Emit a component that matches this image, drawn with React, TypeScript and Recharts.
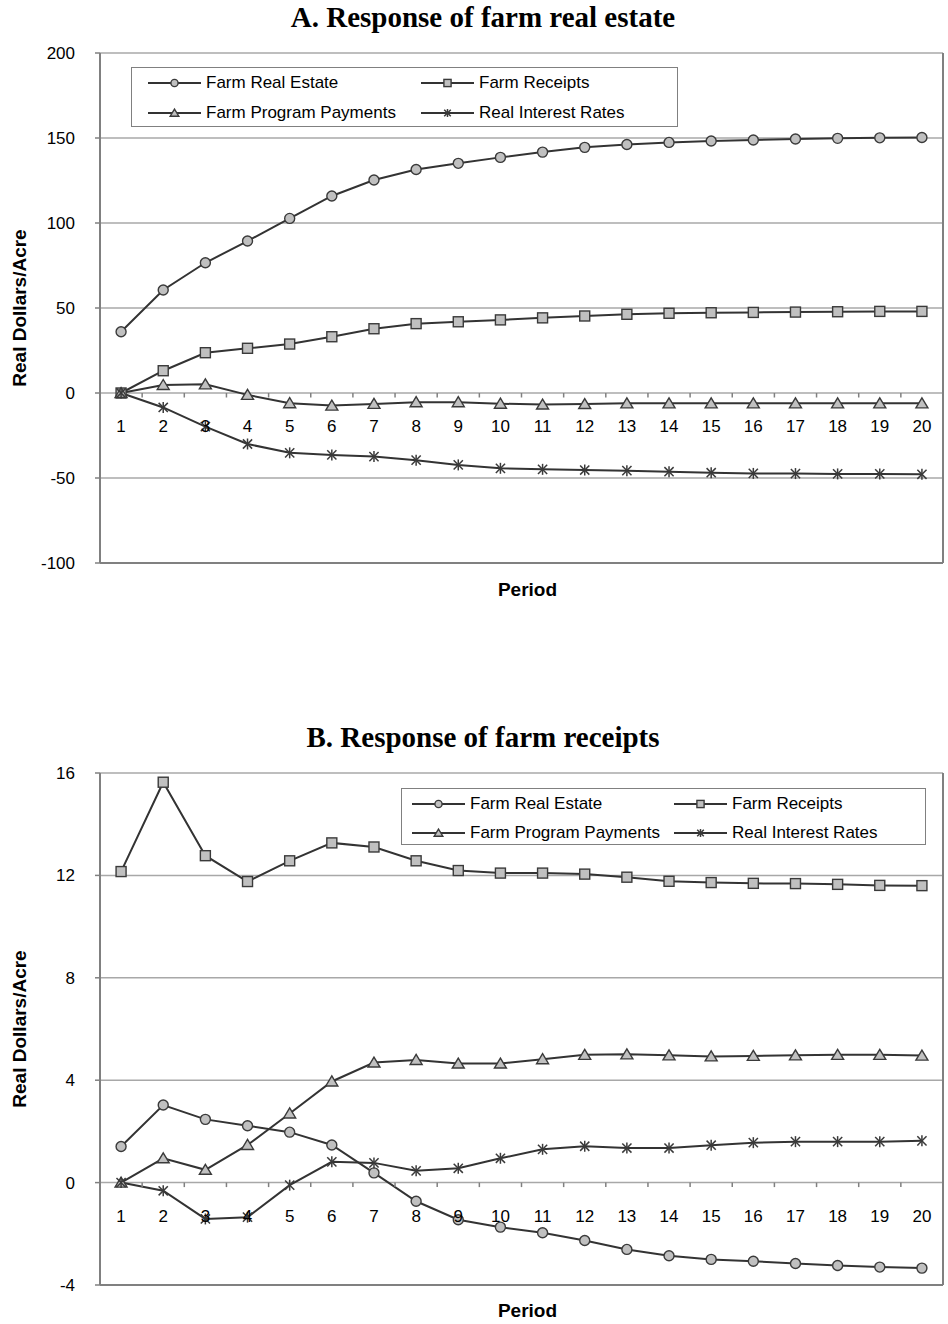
import {
  LineChart,
  Line,
  XAxis,
  YAxis,
  CartesianGrid,
  Legend,
} from "recharts";

const PERIODS = [1, 2, 3, 4, 5, 6, 7, 8, 9, 10, 11, 12, 13, 14, 15, 16, 17, 18, 19, 20];

const SERIES_NAMES = [
  "Farm Real Estate",
  "Farm Receipts",
  "Farm Program Payments",
  "Real Interest Rates",
];

// A. Response of farm real estate
const A_REAL_ESTATE = [36.0, 60.6, 76.6, 89.4, 102.7, 115.9, 125.3, 131.5, 135.1, 138.6, 141.7, 144.5, 146.2, 147.4, 148.2, 148.8, 149.4, 149.8, 150.1, 150.3];
const A_RECEIPTS = [0, 13.1, 23.7, 26.3, 28.8, 33.1, 37.8, 40.8, 41.9, 43.0, 44.2, 45.3, 46.3, 46.9, 47.2, 47.4, 47.6, 47.8, 48.0, 48.0];
const A_PROGRAM = [0, 4.7, 5.1, -1.1, -6.0, -7.4, -6.4, -5.4, -5.4, -6.3, -6.8, -6.5, -6.1, -6.1, -6.1, -6.1, -6.1, -6.1, -6.1, -6.1];
const A_INTEREST = [0, -8.5, -19.8, -30.0, -35.2, -36.4, -37.4, -39.5, -42.3, -44.3, -44.9, -45.3, -45.7, -46.3, -46.9, -47.3, -47.4, -47.6, -47.6, -47.8];
const A_TICKS = [-100, -50, 0, 50, 100, 150, 200];

// B. Response of farm receipts
const B_REAL_ESTATE = [1.41, 3.03, 2.47, 2.22, 1.97, 1.47, 0.38, -0.73, -1.45, -1.74, -1.96, -2.26, -2.61, -2.86, -3.0, -3.07, -3.16, -3.24, -3.3, -3.34];
const B_RECEIPTS = [12.15, 15.64, 12.77, 11.76, 12.57, 13.27, 13.11, 12.57, 12.19, 12.09, 12.09, 12.05, 11.93, 11.77, 11.72, 11.69, 11.68, 11.65, 11.61, 11.6];
const B_PROGRAM = [0, 0.95, 0.5, 1.47, 2.7, 3.95, 4.69, 4.79, 4.65, 4.65, 4.82, 4.99, 5.01, 4.97, 4.93, 4.95, 4.97, 4.99, 4.99, 4.96];
const B_INTEREST = [0, -0.32, -1.42, -1.35, -0.1, 0.81, 0.77, 0.46, 0.56, 0.95, 1.3, 1.42, 1.35, 1.35, 1.46, 1.56, 1.6, 1.6, 1.6, 1.63];
const B_TICKS = [-4, 0, 4, 8, 12, 16];

const FONT = '"Liberation Sans", Arial, sans-serif';
const SERIF = '"Liberation Serif", "Times New Roman", serif';
const LINE = "#333333";
const MARK_FILL = "#c0c0c0";
const MARK_STROKE = "#3a3a3a";
const GRID = "#a8a8a8";
const FRAME = "#808080";

const SERIES = [
  { key: "fre", name: SERIES_NAMES[0], kind: "circle" },
  { key: "fr", name: SERIES_NAMES[1], kind: "square" },
  { key: "fpp", name: SERIES_NAMES[2], kind: "triangle" },
  { key: "rir", name: SERIES_NAMES[3], kind: "star" },
];

function buildRows(fre: number[], fr: number[], fpp: number[], rir: number[]) {
  return PERIODS.map((p, i) => ({ period: p, fre: fre[i], fr: fr[i], fpp: fpp[i], rir: rir[i] }));
}

function Mark({ kind, cx, cy, s = 1 }: { kind: string; cx?: number; cy?: number; s?: number }) {
  if (cx == null || cy == null) return null;
  const sw = 1.4;
  if (kind === "circle") {
    return <circle cx={cx} cy={cy} r={5 * s} fill={MARK_FILL} stroke={MARK_STROKE} strokeWidth={sw} />;
  }
  if (kind === "square") {
    return (
      <rect x={cx - 5 * s} y={cy - 5 * s} width={10 * s} height={10 * s} fill={MARK_FILL} stroke={MARK_STROKE} strokeWidth={sw} />
    );
  }
  if (kind === "triangle") {
    const pts = `${cx},${cy - 5.5 * s} ${cx + 6 * s},${cy + 4.5 * s} ${cx - 6 * s},${cy + 4.5 * s}`;
    return <polygon points={pts} fill={MARK_FILL} stroke={MARK_STROKE} strokeWidth={sw} />;
  }
  const r = 5.5 * s;
  const d = 4.6 * s;
  return (
    <g stroke={MARK_STROKE} strokeWidth={1.5}>
      <line x1={cx} x2={cx} y1={cy - r} y2={cy + r} />
      <line x1={cx - d} x2={cx + d} y1={cy - d} y2={cy + d} />
      <line x1={cx - d} x2={cx + d} y1={cy + d} y2={cy - d} />
    </g>
  );
}

type LegendSpec = {
  left: number;
  top: number;
  width: number;
  height: number;
  cols: number[];
  rows: number[];
};

function LegendBox({ spec }: { spec: LegendSpec }) {
  return (
    <div
      style={{
        position: "relative",
        width: spec.width,
        height: spec.height,
        boxSizing: "border-box",
        border: `1.5px solid ${FRAME}`,
        background: "#fff",
        fontFamily: FONT,
        fontSize: 17,
        color: "#000",
      }}
    >
      {SERIES.map((s, i) => (
        <div
          key={s.key}
          style={{
            position: "absolute",
            left: spec.cols[i % 2],
            top: spec.rows[Math.floor(i / 2)] - 11,
            height: 22,
            display: "flex",
            alignItems: "center",
            whiteSpace: "nowrap",
          }}
        >
          <svg width={53} height={22} style={{ display: "block" }}>
            <line x1={0} x2={53} y1={11} y2={11} stroke={LINE} strokeWidth={2} />
            <Mark kind={s.kind} cx={26.5} cy={11} s={0.72} />
          </svg>
          <span style={{ marginLeft: 5 }}>{s.name}</span>
        </div>
      ))}
    </div>
  );
}

function YTitle(props: any) {
  const vb = props.viewBox || { x: 0, y: 0, height: 0 };
  const cx = vb.x + 19;
  const cy = vb.y + vb.height / 2;
  return (
    <text
      x={cx}
      y={cy}
      transform={`rotate(-90 ${cx} ${cy})`}
      textAnchor="middle"
      dominantBaseline="central"
      fontFamily={FONT}
      fontWeight={700}
      fontSize={19}
      fill="#000"
    >
      Real Dollars/Acre
    </text>
  );
}

function PeriodTitle(props: any) {
  const vb = props.viewBox || { x: 0, y: 0, width: 0 };
  return (
    <text
      x={vb.x + vb.width / 2 + 6}
      y={vb.y + props.offsetY}
      textAnchor="middle"
      dominantBaseline="central"
      fontFamily={FONT}
      fontWeight={700}
      fontSize={19}
      fill="#000"
    >
      Period
    </text>
  );
}

function PeriodTick(props: any) {
  const { x, y, payload, index, shift, band } = props;
  const y0 = y - shift;
  return (
    <g>
      {index > 0 && (
        <line x1={x - band / 2} x2={x - band / 2} y1={y0} y2={y0 + 4.5} stroke={FRAME} strokeWidth={1.5} />
      )}
      <text x={x} y={y0 + 39} textAnchor="middle" fontFamily={FONT} fontSize={17} fill="#000">
        {payload.value}
      </text>
    </g>
  );
}

const CHART_W = 948;
const AXIS_W = 100;
const RIGHT_GAP = 5;
const PLOT_TOP = 53;

type PanelProps = {
  top: number;
  height: number;
  axisH: number;
  title: string;
  titleTop: number;
  rows: any[];
  yMin: number;
  yMax: number;
  yTicks: number[];
  legend: LegendSpec;
  periodY: number;
};

function Panel({ top, height, axisH, title, titleTop, rows, yMin, yMax, yTicks, legend, periodY }: PanelProps) {
  const plotW = CHART_W - AXIS_W - RIGHT_GAP;
  const plotH = height - PLOT_TOP - axisH;
  const band = plotW / PERIODS.length;
  const zeroShift = (plotH * (0 - yMin)) / (yMax - yMin);
  const frameLine = { stroke: FRAME, strokeWidth: 2 };
  return (
    <>
      <div
        style={{
          position: "absolute",
          left: 183,
          width: 600,
          top: titleTop,
          textAlign: "center",
          fontFamily: SERIF,
          fontWeight: 700,
          fontSize: 29,
          lineHeight: "29px",
          color: "#000",
        }}
      >
        {title}
      </div>
      <div style={{ position: "absolute", left: 0, top, width: CHART_W, height }}>
        <LineChart
          width={CHART_W}
          height={height}
          data={rows}
          margin={{ top: PLOT_TOP, right: 0, bottom: 0, left: 0 }}
        >
          <CartesianGrid vertical={false} stroke={GRID} strokeWidth={1.5} />
          <XAxis
            dataKey="period"
            type="category"
            interval={0}
            axisLine={frameLine}
            tickLine={false}
            tickSize={0}
            tickMargin={0}
            height={axisH}
            padding={{ left: band / 2, right: band / 2 }}
            tick={(p: any) => <PeriodTick {...p} shift={zeroShift} band={band} />}
            label={<PeriodTitle offsetY={periodY} />}
          />
          <XAxis
            xAxisId="frameTop"
            orientation="top"
            dataKey="period"
            height={0}
            tick={false}
            tickLine={false}
            axisLine={frameLine}
          />
          <YAxis
            type="number"
            domain={[yMin, yMax]}
            ticks={yTicks}
            interval={0}
            allowDataOverflow
            width={AXIS_W}
            axisLine={frameLine}
            tickLine={{ stroke: FRAME, strokeWidth: 1.5 }}
            tickSize={5}
            tickMargin={20}
            tick={{ fill: "#000", fontSize: 17, fontFamily: FONT }}
            label={<YTitle />}
          />
          <YAxis
            yAxisId="frameRight"
            orientation="right"
            type="number"
            domain={[0, 1]}
            width={RIGHT_GAP}
            tick={false}
            tickLine={false}
            axisLine={frameLine}
          />
          <Legend
            layout="horizontal"
            verticalAlign="middle"
            align="center"
            wrapperStyle={{ left: legend.left, top: legend.top, width: legend.width, height: legend.height }}
            content={() => <LegendBox spec={legend} />}
          />
          {SERIES.map((s) => (
            <Line
              key={s.key}
              dataKey={s.key}
              name={s.name}
              type="linear"
              stroke={LINE}
              strokeWidth={2}
              isAnimationActive={false}
              activeDot={false}
              dot={(p: any) => <Mark key={`${s.key}-${p.index}`} kind={s.kind} cx={p.cx} cy={p.cy} />}
            />
          ))}
        </LineChart>
      </div>
    </>
  );
}

const ROWS_A = buildRows(A_REAL_ESTATE, A_RECEIPTS, A_PROGRAM, A_INTEREST);
const ROWS_B = buildRows(B_REAL_ESTATE, B_RECEIPTS, B_PROGRAM, B_INTEREST);

export default function App() {
  return (
    <div style={{ position: "absolute", left: 0, top: 0, width: 948, height: 1324, background: "#fff" }}>
      <Panel
        top={0}
        height={620}
        axisH={57}
        title="A. Response of farm real estate"
        titleTop={3}
        rows={ROWS_A}
        yMin={-100}
        yMax={200}
        yTicks={A_TICKS}
        legend={{ left: 131, top: 67, width: 547, height: 60, cols: [16, 289], rows: [15, 44.5] }}
        periodY={26}
      />
      <Panel
        top={720}
        height={604}
        axisH={39}
        title="B. Response of farm receipts"
        titleTop={723}
        rows={ROWS_B}
        yMin={-4}
        yMax={16}
        yTicks={B_TICKS}
        legend={{ left: 401, top: 68, width: 525, height: 57, cols: [10, 272], rows: [15, 44] }}
        periodY={25}
      />
    </div>
  );
}
